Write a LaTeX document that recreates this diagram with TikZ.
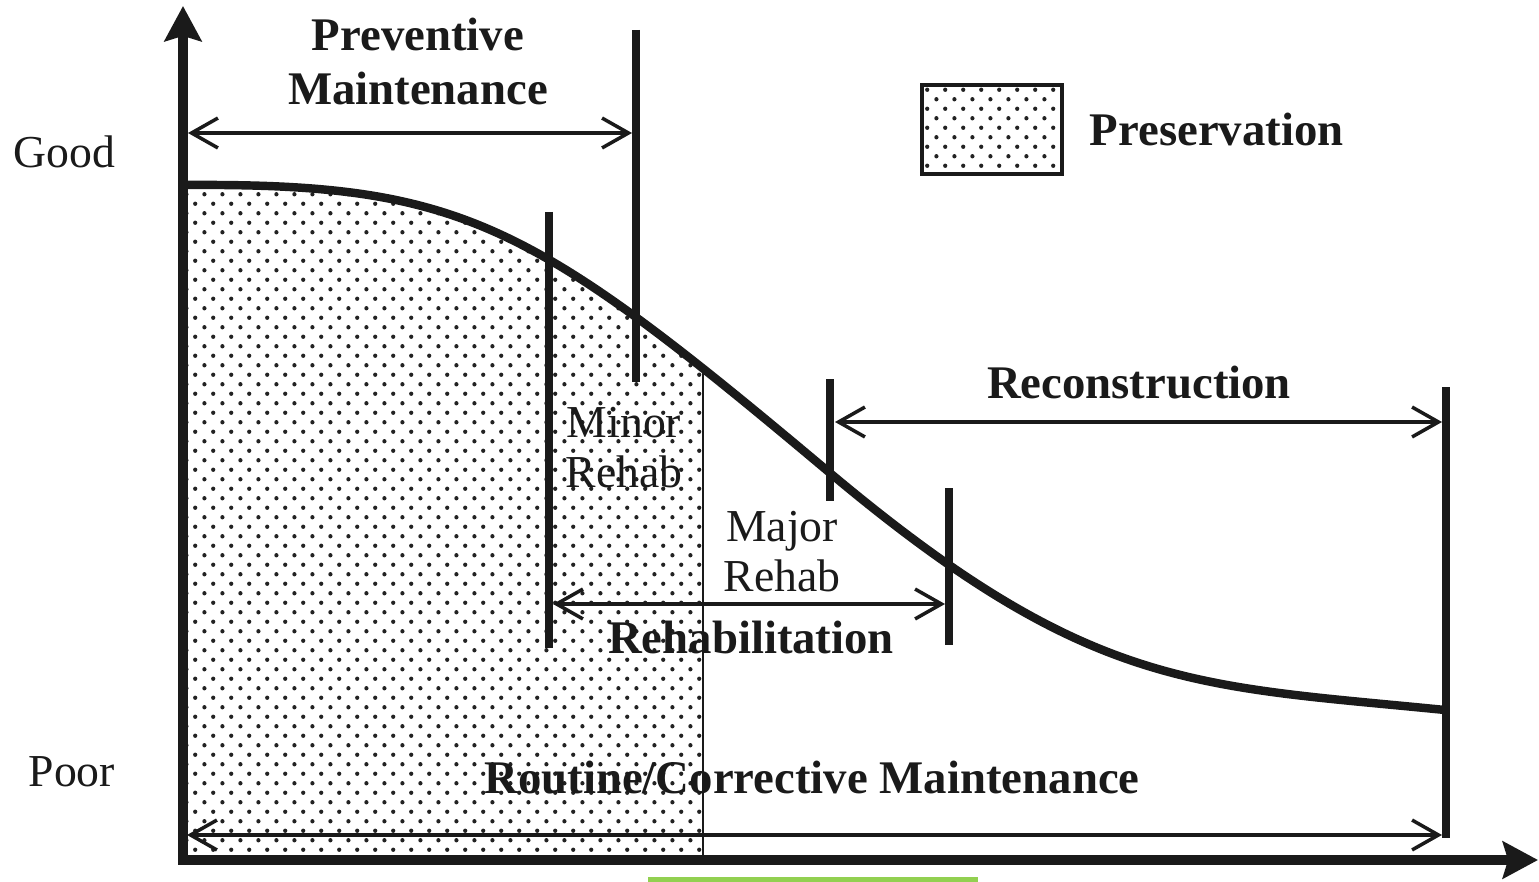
\documentclass[tikz,border=0pt]{standalone}
\usepackage{fontspec}
\setmainfont{Liberation Serif}
\usepackage{tikz}
\usetikzlibrary{arrows.meta, positioning, calc, patterns}
\definecolor{ink}{HTML}{1A1A1A}
\definecolor{dotgrey}{HTML}{222222}
\definecolor{markgreen}{HTML}{92D050}

\pgfdeclarepatternformonly{presdots}{\pgfqpoint{0pt}{0pt}}{\pgfqpoint{5.2pt}{5.4pt}}{\pgfqpoint{5.2pt}{5.4pt}}{%
  \pgfpathcircle{\pgfqpoint{1.3pt}{1.35pt}}{0.62pt}%
  \pgfpathcircle{\pgfqpoint{3.9pt}{4.05pt}}{0.62pt}%
  \pgfusepath{fill}%
}

% condition curve (picture units are pixels)
\newcommand{\condcurve}{(183,185) .. controls (463,183) and (530,221) .. (830,473) .. controls (1090,691) and (1195,685) .. (1445,710)}

\begin{document}
\begin{tikzpicture}[
  x=0.01cm, y=-0.01cm,
  font=\fontsize{13}{14.2}\selectfont,
  axis/.style={
    line width=3pt, ink, line join=miter,
    {Stealth[length=10pt,width=10.5pt,inset=1.5pt]}-{Stealth[length=10pt,width=10.5pt,inset=1.5pt]}
  },
  curveline/.style={line width=2.4pt, ink},
  bar/.style={line width=2pt, ink},
  span/.style={{Straight Barb[length=7.5pt,width=8.5pt]}-{Straight Barb[length=7.5pt,width=8.5pt]}, line width=1pt, ink},
  dotfill/.style={pattern=presdots, pattern color=dotgrey},
  legendbox/.style={draw=ink, line width=1.2pt, dotfill, minimum width=1.4cm, minimum height=0.89cm, inner sep=0pt},
  lbl/.style={inner sep=0pt, text=ink},
  blbl/.style={lbl, font=\fontsize{13.3}{15.4}\selectfont\bfseries}
]
  \useasboundingbox (0,0) rectangle (1539,882);

  % preservation share, cut off where minor rehab ends
  \begin{scope}
    \clip (183,0) rectangle (703,860);
    \fill[dotfill] \condcurve -- (1445,860) -- (183,860) -- cycle;
  \end{scope}
  \coordinate (presTop) at (703,368);
  \coordinate (presBot) at (703,860);
  \draw[ink, line width=0.6pt] (presTop) -- (presBot);

  % axes
  \coordinate (ytip) at (183,6);
  \coordinate (origin) at (183,860);
  \coordinate (xtip) at (1538,860);
  \draw[axis] (ytip) -- (origin) -- (xtip);

  \draw[curveline] \condcurve;

  % treatment bounds
  \coordinate (prevTop) at (636,30);    \coordinate (prevBot) at (636,382);
  \coordinate (minorTop) at (549,212);  \coordinate (minorBot) at (549,648);
  \coordinate (reconTop) at (830,379);  \coordinate (reconBot) at (830,501);
  \coordinate (rehabTop) at (949,488);  \coordinate (rehabBot) at (949,645);
  \coordinate (endTop) at (1446,387);   \coordinate (endBot) at (1446,838);
  \draw[bar] (prevTop) -- (prevBot);
  \draw[bar] (minorTop) -- (minorBot);
  \draw[bar] (reconTop) -- (reconBot);
  \draw[bar] (rehabTop) -- (rehabBot);
  \draw[bar] (endTop) -- (endBot);

  % spans
  \coordinate (prevL) at (188,133);   \coordinate (prevR) at (632,133);
  \coordinate (reconL) at (835,422);  \coordinate (reconR) at (1442,422);
  \coordinate (rehabL) at (553,604);  \coordinate (rehabR) at (945,604);
  \coordinate (routL) at (187,835);   \coordinate (routR) at (1442,835);
  \draw[span] (prevL) -- (prevR);
  \draw[span] (reconL) -- (reconR);
  \draw[span] (rehabL) -- (rehabR);
  \draw[span] (routL) -- (routR);

  % legend
  \node[legendbox] (keyBox) at (992,129.5) {};
  \node[blbl, right=0.25cm of keyBox] (keyText) {Preservation};

  % labels
  \node[lbl, anchor=base west] (lblGood) at (13,168) {Good};
  \node[lbl, anchor=base west] (lblPoor) at (28,786) {Poor};
  \node[blbl, align=center, anchor=north] (lblPrev) at (418,17) {Preventive\\Maintenance};
  \node[blbl, anchor=base] (lblRecon) at (1139,398) {Reconstruction};
  \node[lbl, align=center, anchor=north] (lblMinor) at (624,407) {Minor\\Rehab};
  \node[lbl, align=center, anchor=north] (lblMajor) at (782,511) {Major\\Rehab};
  \node[blbl, anchor=base] (lblRehab) at (751,653) {Rehabilitation};
  \node[blbl, anchor=base] (lblRout) at (812,793) {Routine/Corrective Maintenance};

  \fill[markgreen] (648,877) rectangle (978,882);
\end{tikzpicture}
\end{document}
